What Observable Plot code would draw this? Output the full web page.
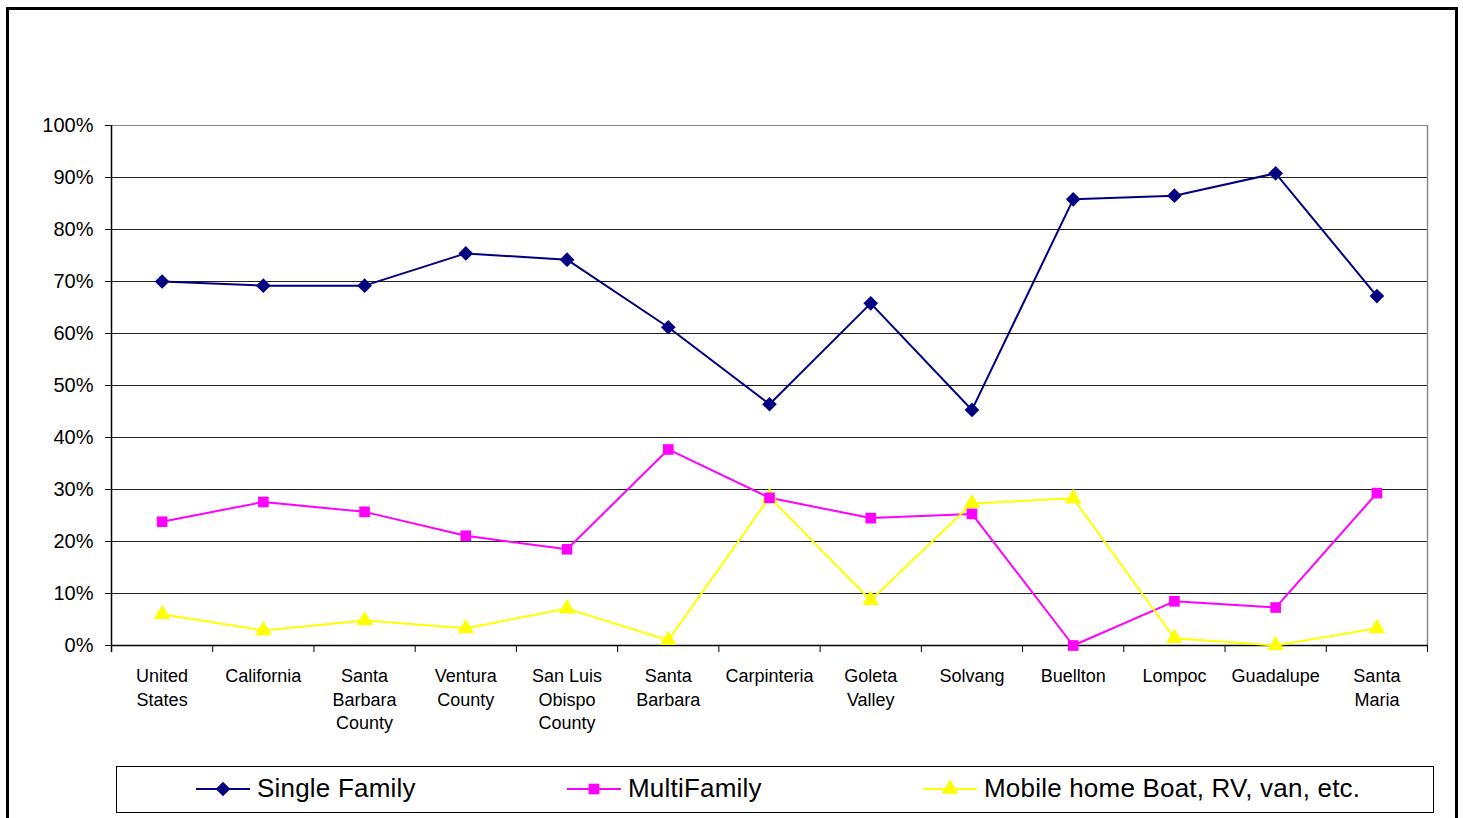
<!DOCTYPE html>
<html><head><meta charset="utf-8">
<script src="https://cdn.jsdelivr.net/npm/d3@7"></script>
<script src="https://cdn.jsdelivr.net/npm/@observablehq/plot@0.6"></script>
<style>
body{margin:0;background:#fff;font-family:"Liberation Sans",Arial,sans-serif;overflow:hidden;}
#frame{position:absolute;left:6px;top:7px;width:1452px;height:830px;border:3px solid #000;box-sizing:border-box;}
#chart{position:absolute;left:0;top:0;}
#legend{position:absolute;left:116px;top:766px;width:1318px;height:47px;border:1px solid #000;box-sizing:border-box;background:#fff;}
.item{position:absolute;top:0;height:43px;display:flex;align-items:center;font-size:26px;letter-spacing:0.2px;color:#000;white-space:nowrap;}
.item svg{margin-right:6px;}
</style>
</head><body>
<div id="frame"></div>
<div id="chart"></div>
<div id="legend"></div>
<script>
const categories = ["United States","California","Santa Barbara County","Ventura County","San Luis Obispo County","Santa Barbara","Carpinteria","Goleta Valley","Solvang","Buellton","Lompoc","Guadalupe","Santa Maria"];
const xLabels = ["United\nStates","California","Santa\nBarbara\nCounty","Ventura\nCounty","San Luis\nObispo\nCounty","Santa\nBarbara","Carpinteria","Goleta\nValley","Solvang","Buellton","Lompoc","Guadalupe","Santa\nMaria"];
const singleFamily = [0.700,0.692,0.692,0.754,0.742,0.612,0.464,0.658,0.453,0.858,0.865,0.908,0.672];
const multiFamily  = [0.238,0.276,0.257,0.211,0.185,0.377,0.284,0.245,0.253,0.000,0.085,0.073,0.293];
const mobileHome   = [0.060,0.029,0.048,0.033,0.071,0.010,0.285,0.087,0.273,0.283,0.014,0.000,0.033];
const seriesNames = ["Single Family","MultiFamily","Mobile home Boat, RV, van, etc."];
const seriesColors = ["#000080","#FF00FF","#FFFF00"];
const seriesSymbols = ["diamond2","square","triangle"];
const yTicks = [0,0.1,0.2,0.3,0.4,0.5,0.6,0.7,0.8,0.9,1.0];

const seriesValues = [singleFamily, multiFamily, mobileHome];
const markerR = [6.6, 6.0, 6.2];
const rows = [];
seriesValues.forEach((vals, s) => vals.forEach((v, i) => rows.push({series: seriesNames[s], idx: i + 0.5, value: v, r: markerR[s]})));

const plot = Plot.plot({
  width: 1463, height: 760,
  marginLeft: 111, marginRight: 36, marginTop: 125, marginBottom: 115,
  x: {type: "linear", domain: [0, categories.length], label: null},
  y: {domain: [0, 1], label: null},
  r: {type: "identity"},
  color: {domain: seriesNames, range: seriesColors},
  symbol: {domain: seriesNames, range: seriesSymbols},
  style: {fontFamily: "'Liberation Sans', Arial, sans-serif", color: "#000", background: "transparent", overflow: "visible"},
  marks: [
    Plot.gridY(yTicks.filter(d => d > 0 && d < 1), {stroke: "#222", strokeOpacity: 1}),
    Plot.gridY([1], {stroke: "#888", strokeOpacity: 1}),
    Plot.ruleX([categories.length], {stroke: "#888", strokeWidth: 1.5}),
    Plot.axisY(yTicks, {tickFormat: d3.format(".0%"), tickSize: 6, tickPadding: 12, fontSize: 20, stroke: "#000", label: null}),
    Plot.axisX(d3.range(categories.length + 1), {tickSize: 7, tickFormat: () => "", stroke: "#000", label: null}),
    Plot.axisX(d3.range(categories.length).map(i => i + 0.5), {tickSize: 0, tickPadding: 20, fontSize: 18, lineHeight: 1.3, tickFormat: d => xLabels[Math.floor(d)], label: null}),
    Plot.ruleY([0], {stroke: "#000", strokeWidth: 1.5}),
    Plot.ruleX([0], {stroke: "#000", strokeWidth: 1.5, insetBottom: -7}),
    Plot.line(rows, {x: "idx", y: "value", z: "series", stroke: "series", strokeWidth: 2}),
    Plot.dot(rows, {x: "idx", y: "value", fill: "series", symbol: "series", stroke: "none", r: "r"})
  ]
});
document.getElementById("chart").appendChild(plot);

// Legend
const legend = document.getElementById("legend");
const legendX = [78, 449, 805];
seriesNames.forEach((name, s) => {
  const item = document.createElement("div");
  item.className = "item";
  item.style.left = legendX[s] + "px";
  const sym = d3.symbol(s === 0 ? d3.symbolDiamond2 : s === 1 ? d3.symbolSquare : d3.symbolTriangle, Math.PI * markerR[s] * markerR[s])();
  item.innerHTML = `<svg width="56" height="20"><line x1="1" x2="55" y1="10" y2="10" stroke="${seriesColors[s]}" stroke-width="2"/><path transform="translate(28,10)" d="${sym}" fill="${seriesColors[s]}"/></svg><span>${name}</span>`;
  legend.appendChild(item);
});
</script>
</body></html>
